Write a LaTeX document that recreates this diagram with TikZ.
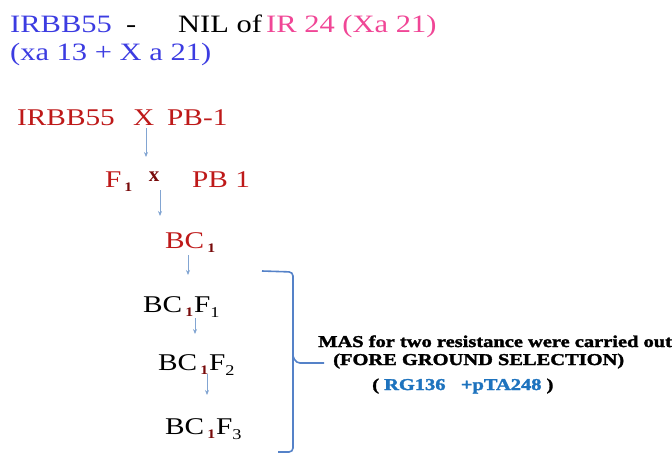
\documentclass[tikz,border=0pt]{standalone}
\usepackage{fontspec}
\setmainfont{Liberation Serif}
\newfontfamily\wideserif[FakeStretch=1.22]{Liberation Serif}
\newfontfamily\masserif[FakeStretch=1.24,FakeBold=2]{Liberation Serif}
\usetikzlibrary{arrows.meta}
\definecolor{tblue}{RGB}{60,60,225}
\definecolor{tpink}{RGB}{240,70,150}
\definecolor{tred}{RGB}{190,25,25}
\definecolor{sred}{RGB}{120,10,10}
\definecolor{arrowblue}{RGB}{130,165,210}
\definecolor{braceblue}{RGB}{85,130,200}
\definecolor{mblue}{RGB}{30,115,190}
\tikzset{
  txt/.style={inner sep=0pt, anchor=base west, font=\wideserif\fontsize{25}{28}\selectfont},
  gen/.style={inner sep=0pt, anchor=base west, font=\wideserif\fontsize{24}{26}\selectfont},
  mas/.style={inner sep=0pt, anchor=base west, font=\masserif\bfseries\fontsize{16.5}{18}\selectfont},
  flow/.style={draw=arrowblue, line width=0.8pt, -{Stealth[length=5pt,width=4pt]}},
  brace/.style={draw=braceblue, line width=1.6pt, rounded corners=4pt}
}
\newcommand{\sone}{\hspace{3pt}\raisebox{-4pt}{\fontsize{13}{13}\selectfont\textcolor{sred}{\textbf{1}}}\hspace{1pt}}
\newcommand{\sbk}[1]{\raisebox{-5pt}{\fontsize{15}{15}\selectfont #1}}
\begin{document}
\begin{tikzpicture}[x=1pt,y=-1pt]
\useasboundingbox (0,0) rectangle (672,453);
% header
\node[txt, text=tblue] (h1) at (10,32) {IRBB55};
\node[txt] (dash) at (126,32) {-};
\node[txt] (nil) at (178,32) {NIL of};
\node[txt, text=tpink] (ir24) at (266,32) {IR 24 (Xa 21)};
\node[txt, text=tblue] (h2) at (10,60) {(xa 13 + X a 21)};
% cross line
\node[gen, text=tred] (p1) at (17,125) {IRBB55};
\node[gen, text=tred] (x1) at (133,125) {X};
\node[gen, text=tred] (pb1) at (167,125) {PB-1};
% F1 x PB 1
\node[gen, text=tred] (f1) at (105,187) {F\sone};
\node[inner sep=0pt, anchor=base, font=\fontsize{21}{21}\selectfont\bfseries, text=sred] (x2) at (154,181) {x};
\node[gen, text=tred] (pb2) at (192,187) {PB 1};
% BC1
\node[gen, text=tred] (bc1) at (165,248) {BC\sone};
% BC1F1..F3
\node[gen] (bcf1) at (143,312) {BC\sone F\sbk{1}};
\node[gen] (bcf2) at (158,370) {BC\sone F\sbk{2}};
\node[gen] (bcf3) at (165,434) {BC\sone F\sbk{3}};
% arrow ends
\coordinate (a1s) at (146,128);
\coordinate (a1e) at (146,157);
\coordinate (a2s) at (160,190);
\coordinate (a2e) at (160,216);
\coordinate (a3s) at (188,255);
\coordinate (a3e) at (188,275);
\coordinate (a4s) at (195,318);
\coordinate (a4e) at (195,334);
\coordinate (a5s) at (207,374);
\coordinate (a5e) at (207,395);
\draw[flow] (a1s) -- (a1e);
\draw[flow] (a2s) -- (a2e);
\draw[flow] (a3s) -- (a3e);
\draw[flow] (a4s) -- (a4e);
\draw[flow] (a5s) -- (a5e);
% brace
\coordinate (bt) at (262,271);
\coordinate (bb) at (278,452);
\coordinate (bm) at (324,363);
\draw[brace] (bt) -- (293,272) -- (293,452) -- (bb);
\draw[brace] (293,356) -- (296,363) -- (bm);
% MAS text
\node[mas] (m1) at (318,347) {MAS for two resistance were carried out};
\node[mas] (m2) at (333,365) {(FORE GROUND SELECTION)};
\node[mas] (m3) at (372,390) {( \textcolor{mblue}{RG136 \ \ +pTA248} )};
\end{tikzpicture}
\end{document}
